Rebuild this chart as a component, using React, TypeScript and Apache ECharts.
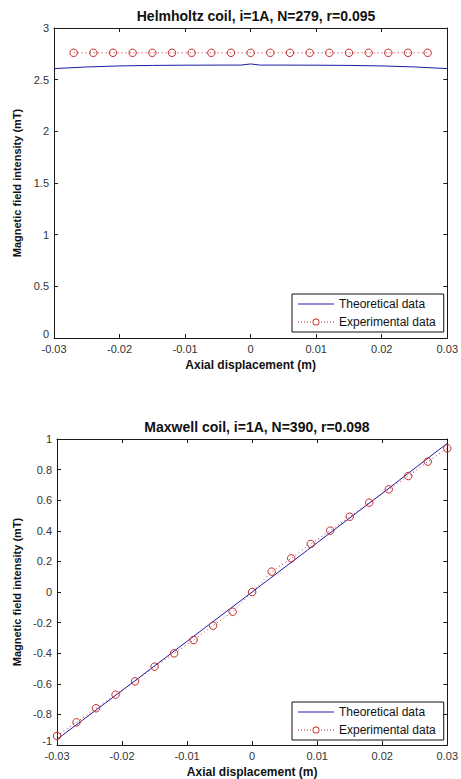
import React, { useEffect, useRef } from "react";
import * as echarts from "echarts";

// Helmholtz coil
const helmTheoX = [-0.03, -0.025, -0.02, -0.015, -0.01, -0.005, -0.0015, 0, 0.0015, 0.005, 0.01, 0.015, 0.02, 0.025, 0.03];
const helmTheoY = [2.607, 2.623, 2.633, 2.638, 2.64, 2.641, 2.641, 2.652, 2.641, 2.641, 2.64, 2.638, 2.633, 2.623, 2.607];
const helmExpX = [-0.027, -0.024, -0.021, -0.018, -0.015, -0.012, -0.009, -0.006, -0.003, 0, 0.003, 0.006, 0.009, 0.012, 0.015, 0.018, 0.021, 0.024, 0.027];
const helmExpY = [2.76, 2.76, 2.76, 2.76, 2.76, 2.76, 2.76, 2.76, 2.76, 2.76, 2.76, 2.76, 2.76, 2.76, 2.76, 2.76, 2.76, 2.76, 2.76];

// Maxwell coil
const maxTheoX = [-0.03, -0.02, -0.01, 0, 0.01, 0.02, 0.03];
const maxTheoY = [-0.963, -0.644, -0.322, 0, 0.322, 0.645, 0.972];
const maxExpX = [-0.03, -0.027, -0.024, -0.021, -0.018, -0.015, -0.012, -0.009, -0.006, -0.003, 0, 0.003, 0.006, 0.009, 0.012, 0.015, 0.018, 0.021, 0.024, 0.027, 0.03];
const maxExpY = [-0.941, -0.852, -0.76, -0.671, -0.584, -0.488, -0.401, -0.314, -0.22, -0.129, 0, 0.133, 0.22, 0.314, 0.401, 0.492, 0.584, 0.671, 0.758, 0.852, 0.939];

const FONT = "'Liberation Sans', Arial, sans-serif";
const AX = "#1a1a1a";
const BLUE = "#1c1ca8";
const RED = "#c42a2a";

const THEO_ICON = "path://M0,0H36V1H0Z";
const EXP_ICON =
  "path://M0,3.5H1V4.5H0Z M3,3.5H4V4.5H3Z M6,3.5H7V4.5H6Z M9,3.5H10V4.5H9Z M12,3.5H13V4.5H12Z " +
  "M23,3.5H24V4.5H23Z M26,3.5H27V4.5H26Z M29,3.5H30V4.5H29Z M32,3.5H33V4.5H32Z M35,3.5H36V4.5H35Z " +
  "M14.5,4 A3.5,3.5 0 1,0 21.5,4 A3.5,3.5 0 1,0 14.5,4 Z M15.4,4 A2.6,2.6 0 1,1 20.6,4 A2.6,2.6 0 1,1 15.4,4 Z";

const pairs = (xs: number[], ys: number[]) => xs.map((x, i) => [x, ys[i]]);
const fmt = (v: number) => {
  const r = parseFloat(v.toFixed(4));
  return r === 0 ? "0" : String(r);
};

const lineAx = { show: true, onZero: false, lineStyle: { color: AX, width: 1 } };
const tickAx = { show: true, inside: true, length: 4, lineStyle: { color: AX } };
const LABEL = { fontFamily: FONT, fontSize: 11, color: "#333" };

function mainX(gridIndex: number) {
  return {
    type: "value", gridIndex, position: "bottom", min: -0.03, max: 0.03, interval: 0.01,
    name: "Axial displacement (m)", nameLocation: "middle", nameGap: 21,
    nameTextStyle: { fontFamily: FONT, fontSize: 12, fontWeight: "bold", color: "#111" },
    axisLine: lineAx, axisTick: tickAx,
    axisLabel: { ...LABEL, margin: 5, formatter: (v: number) => fmt(v) },
    splitLine: { show: false },
  };
}
function topX(gridIndex: number) {
  return {
    type: "value", gridIndex, position: "top", min: -0.03, max: 0.03, interval: 0.01,
    axisLine: lineAx, axisTick: tickAx, axisLabel: { show: false }, splitLine: { show: false },
  };
}
function mainY(gridIndex: number, min: number, max: number, interval: number) {
  return {
    type: "value", gridIndex, position: "left", min, max, interval,
    name: "Magnetic field intensity (mT)", nameLocation: "middle", nameGap: 27,
    nameTextStyle: { fontFamily: FONT, fontSize: 11, fontWeight: "bold", color: "#111" },
    axisLine: lineAx, axisTick: tickAx,
    axisLabel: {
      ...LABEL, margin: 5,
      formatter: (v: number) => (Math.abs(v - min) < 1e-9 ? "{lo|" + fmt(v) + "}" : fmt(v)),
      rich: { lo: { ...LABEL, padding: [0, 0, 8, 0] } },
    },
    splitLine: { show: false },
  };
}
function rightY(gridIndex: number, min: number, max: number, interval: number) {
  return {
    type: "value", gridIndex, position: "right", min, max, interval,
    axisLine: lineAx, axisTick: tickAx, axisLabel: { show: false }, splitLine: { show: false },
  };
}

function legend(top: number) {
  return {
    orient: "vertical", left: 292, top,
    padding: [4, 8, 4, 6], itemGap: 6, itemWidth: 36, itemHeight: 8,
    borderColor: "#111", borderWidth: 1, borderRadius: 0, backgroundColor: "#fff",
    textStyle: { fontFamily: FONT, fontSize: 12, color: "#111" },
    data: [
      { name: "Theoretical data", icon: THEO_ICON, itemStyle: { color: BLUE, borderWidth: 0 } },
      { name: "Experimental data", icon: EXP_ICON, itemStyle: { color: RED, borderWidth: 0 } },
    ],
  };
}

const expStyle = {
  symbol: "circle", symbolSize: 7.5,
  lineStyle: { color: RED, width: 1, type: [1, 3] },
  itemStyle: { color: "rgba(255,255,255,0)", borderColor: RED, borderWidth: 1 },
};
const theoStyle = {
  showSymbol: false, symbol: "none",
  lineStyle: { color: BLUE, width: 1 }, itemStyle: { color: BLUE },
};

export default function App() {
  const ref = useRef<HTMLDivElement>(null);
  useEffect(() => {
    if (!ref.current) return;
    const chart = echarts.init(ref.current, null, { renderer: "svg" });
    chart.setOption({
      animation: false,
      backgroundColor: "#fff",
      title: [
        { text: "Helmholtz coil, i=1A, N=279, r=0.095", left: 251, textAlign: "center", top: 4,
          textStyle: { fontFamily: FONT, fontSize: 14, fontWeight: "bold", color: "#111" } },
        { text: "Maxwell coil, i=1A, N=390, r=0.098", left: 252, textAlign: "center", top: 415,
          textStyle: { fontFamily: FONT, fontSize: 14, fontWeight: "bold", color: "#111" } },
      ],
      legend: [legend(294), legend(702)],
      grid: [
        { left: 54, top: 28, width: 394, height: 310, containLabel: false },
        { left: 57, top: 439, width: 391, height: 306, containLabel: false },
      ],
      xAxis: [mainX(0), topX(0), mainX(1), topX(1)],
      yAxis: [mainY(0, 0, 3, 0.5), rightY(0, 0, 3, 0.5), mainY(1, -1, 1, 0.2), rightY(1, -1, 1, 0.2)],
      series: [
        { name: "Theoretical data", type: "line", xAxisIndex: 0, yAxisIndex: 0, data: pairs(helmTheoX, helmTheoY), ...theoStyle },
        { name: "Experimental data", type: "line", xAxisIndex: 0, yAxisIndex: 0, data: pairs(helmExpX, helmExpY), ...expStyle },
        { name: "Theoretical data", type: "line", xAxisIndex: 2, yAxisIndex: 2, data: pairs(maxTheoX, maxTheoY), ...theoStyle },
        { name: "Experimental data", type: "line", xAxisIndex: 2, yAxisIndex: 2, data: pairs(maxExpX, maxExpY), ...expStyle },
      ],
    });
    return () => chart.dispose();
  }, []);
  return <div ref={ref} style={{ position: "absolute", left: 0, top: 0, width: 461, height: 779 }} />;
}
